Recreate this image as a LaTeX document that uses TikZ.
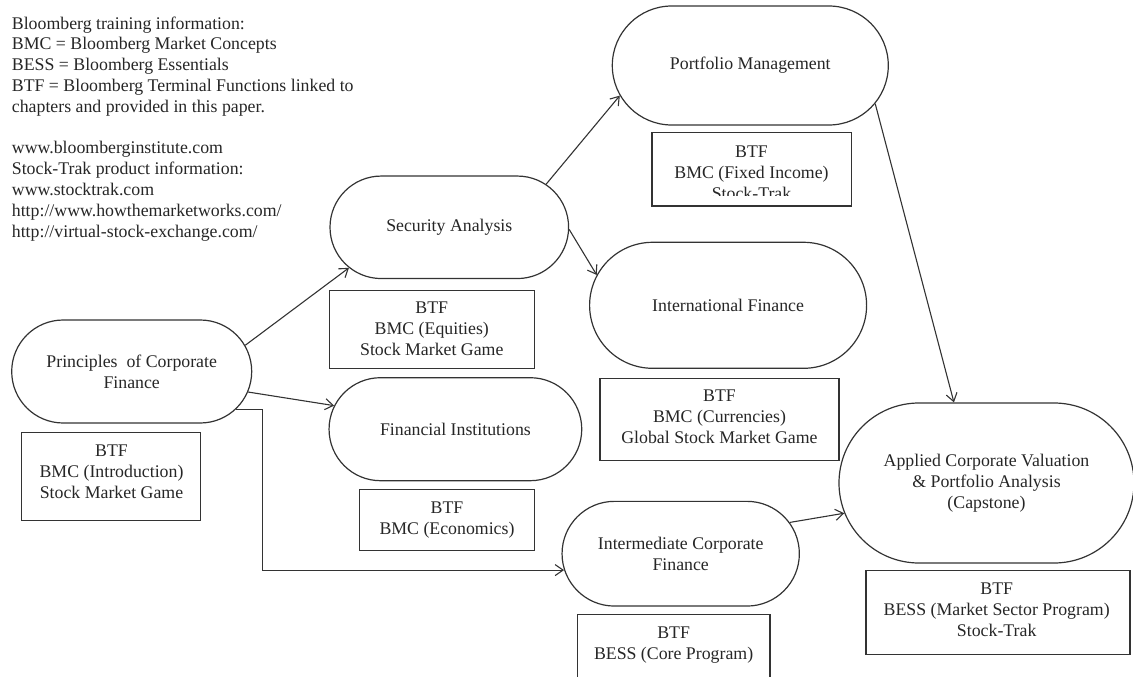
\documentclass[tikz,border=0pt]{standalone}
\usepackage{fontspec}
\setmainfont{Liberation Serif}
\usetikzlibrary{shapes.misc,arrows.meta,calc}
\begin{document}
\begin{tikzpicture}[x=1pt,y=-1pt,
  every node/.style={font=\fontsize{17.8}{20.8}\selectfont, text=black!85},
  stadium/.style={rounded rectangle, draw=black!80, line width=1.2pt, inner sep=0pt, align=center},
  infobox/.style={draw=black!80, line width=1.2pt, inner sep=0pt},
  boxtext/.style={align=center, inner sep=0pt},
  arr/.style={draw=black!80, line width=1.1pt, -{Straight Barb[length=8pt,width=11pt]}}]
\useasboundingbox (0,0) rectangle (1133,677);
\clip (0,0) rectangle (1133,677);

% legend text
\node[anchor=north west, align=left, inner sep=0pt] (info) at (11.7,16.3)
  {Bloomberg training information:\\
   BMC = Bloomberg Market Concepts\\
   BESS = Bloomberg Essentials\\
   BTF = Bloomberg Terminal Functions linked to\\
   chapters and provided in this paper.\\[20.8pt]
   www.bloomberginstitute.com\\
   Stock-Trak product information:\\
   www.stocktrak.com\\
   http://www.howthemarketworks.com/\\
   http://virtual-stock-exchange.com/};

% course nodes
\node[stadium, minimum width=240pt, minimum height=103pt] (pcf) at (131.7,371.5) {Principles\ \ of Corporate\\Finance};
\node[stadium, minimum width=238.6pt, minimum height=102.5pt] (sa) at (449.3,227.3) {Security Analysis};
\node[stadium, minimum width=252.7pt, minimum height=103pt] (fi) at (455.4,429.2) {Financial Institutions};
\node[stadium, minimum width=276pt, minimum height=119pt] (pm) at (750.3,65.5) {Portfolio Management};
\node[stadium, minimum width=277pt, minimum height=126pt] (intl) at (728.1,305.3) {International Finance};
\node[stadium, minimum width=237.3pt, minimum height=104.7pt] (icf) at (680.7,553.7) {Intermediate Corporate\\Finance};
\node[stadium, minimum width=295pt, minimum height=160pt] (cap) at (986.5,483) {Applied Corporate Valuation\\\& Portfolio Analysis\\(Capstone)};

% info boxes
\node[infobox, minimum width=179pt, minimum height=87.6pt] (bIntro) at (111.2,476.5) {};
\node[boxtext] (tIntro) at (111.5,471.5) {BTF\\BMC (Introduction)\\Stock Market Game};

\node[infobox, minimum width=205pt, minimum height=77.9pt] (bEq) at (431.8,329.75) {};
\node[boxtext] (tEq) at (431.8,329) {BTF\\BMC (Equities)\\Stock Market Game};

\node[infobox, minimum width=174.8pt, minimum height=61.3pt] (bEco) at (446.9,519.85) {};
\node[boxtext] (tEco) at (447,519.8) {BTF\\BMC (Economics)};

\node[infobox, minimum width=199.5pt, minimum height=73.3pt] (bFix) at (751.75,169.35) {};
\begin{scope}
  \clip (bFix.north west) rectangle ($(bFix.south east)+(0,-11)$);
  \node[boxtext] (tFix) at (751.5,172.5) {BTF\\BMC (Fixed Income)\\Stock-Trak};
\end{scope}

\node[infobox, minimum width=239pt, minimum height=82.4pt] (bCur) at (719.5,419.5) {};
\node[boxtext] (tCur) at (719.5,416.7) {BTF\\BMC (Currencies)\\Global Stock Market Game};

\node[infobox, minimum width=192.7pt, minimum height=85.2pt] (bCore) at (673.65,657.4) {};
\node[boxtext] (tCore) at (673.6,644.8) {BTF\\BESS (Core Program)};

\node[infobox, minimum width=264pt, minimum height=84pt] (bCap) at (998,612.3) {};
\node[boxtext] (tCap) at (996.7,609.6) {BTF\\BESS (Market Sector Program)\\Stock-Trak};

% connectors
\draw[arr] (pcf.13) -- (sa.202);
\draw[arr] (pcf.350) -- (fi.169);
\draw[arr] (pcf.340) -- ++(26.7,0) |- (icf.188);
\draw[arr] (sa.24) -- (pm.193);
\draw[arr] (sa.359) -- (intl.167);
\draw[arr] (pm.343) -- (cap.112);
\draw[arr] (icf.16) -- (cap.192);
\end{tikzpicture}
\end{document}
